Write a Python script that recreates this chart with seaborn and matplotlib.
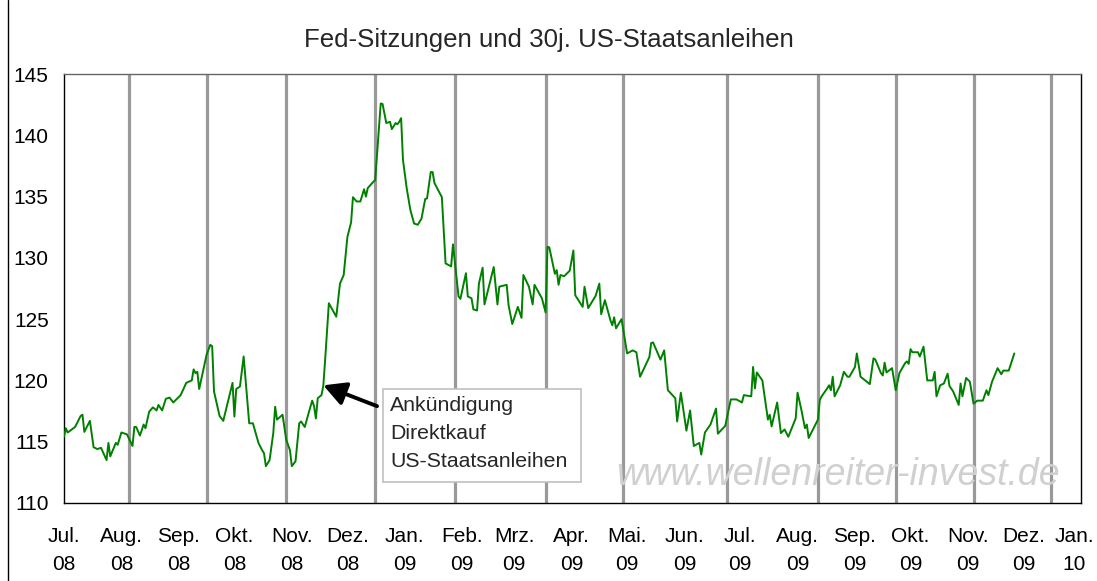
import matplotlib
matplotlib.use("Agg")
import matplotlib.pyplot as plt
import matplotlib.patches as patches
import matplotlib.transforms as mtransforms
import pandas as pd
import seaborn as sns

# 30j. US-Staatsanleihen (Future)
dates = [
    "2008-07-01", "2008-07-02", "2008-07-03", "2008-07-07", "2008-07-10", "2008-07-11", "2008-07-12",
    "2008-07-15", "2008-07-17", "2008-07-19", "2008-07-21", "2008-07-24", "2008-07-25", "2008-07-26",
    "2008-07-29", "2008-07-30", "2008-08-01", "2008-08-04", "2008-08-07", "2008-08-08", "2008-08-09",
    "2008-08-11", "2008-08-13", "2008-08-14", "2008-08-16", "2008-08-18", "2008-08-20", "2008-08-21",
    "2008-08-23", "2008-08-25", "2008-08-27", "2008-08-29", "2008-09-02", "2008-09-05", "2008-09-08",
    "2008-09-09", "2008-09-10", "2008-09-11", "2008-09-12", "2008-09-16", "2008-09-18", "2008-09-19",
    "2008-09-20", "2008-09-23", "2008-09-24", "2008-09-25", "2008-09-30", "2008-10-01", "2008-10-02",
    "2008-10-04", "2008-10-06", "2008-10-09", "2008-10-11", "2008-10-14", "2008-10-16", "2008-10-17",
    "2008-10-18", "2008-10-20", "2008-10-22", "2008-10-23", "2008-10-24", "2008-10-27", "2008-10-29",
    "2008-10-31", "2008-11-01", "2008-11-03", "2008-11-05", "2008-11-06", "2008-11-08", "2008-11-10",
    "2008-11-12", "2008-11-13", "2008-11-14", "2008-11-15", "2008-11-17", "2008-11-18", "2008-11-19",
    "2008-11-21", "2008-11-23", "2008-11-25", "2008-11-27", "2008-11-29", "2008-12-01", "2008-12-03",
    "2008-12-04", "2008-12-06", "2008-12-08", "2008-12-10", "2008-12-11", "2008-12-12", "2008-12-15",
    "2008-12-16", "2008-12-19", "2008-12-20", "2008-12-22", "2008-12-24", "2008-12-25", "2008-12-27",
    "2008-12-28", "2008-12-29", "2008-12-30", "2008-12-31", "2009-01-02", "2009-01-04", "2009-01-06",
    "2009-01-08", "2009-01-10", "2009-01-12", "2009-01-13", "2009-01-15", "2009-01-16", "2009-01-17",
    "2009-01-21", "2009-01-23", "2009-01-26", "2009-01-27", "2009-01-28", "2009-01-30", "2009-01-31",
    "2009-02-03", "2009-02-04", "2009-02-06", "2009-02-07", "2009-02-09", "2009-02-10", "2009-02-12",
    "2009-02-13", "2009-02-18", "2009-02-20", "2009-02-21", "2009-02-25", "2009-02-26", "2009-02-28",
    "2009-03-03", "2009-03-05", "2009-03-06", "2009-03-09", "2009-03-11", "2009-03-12", "2009-03-16",
    "2009-03-18", "2009-03-19", "2009-03-20", "2009-03-23", "2009-03-24", "2009-03-25", "2009-03-26",
    "2009-03-28", "2009-03-31", "2009-04-02", "2009-04-03", "2009-04-07", "2009-04-08", "2009-04-10",
    "2009-04-14", "2009-04-16", "2009-04-17", "2009-04-19", "2009-04-22", "2009-04-23", "2009-04-24",
    "2009-04-25", "2009-04-28", "2009-05-01", "2009-05-04", "2009-05-06", "2009-05-08", "2009-05-13",
    "2009-05-14", "2009-05-15", "2009-05-19", "2009-05-21", "2009-05-23", "2009-05-27", "2009-05-28",
    "2009-05-30", "2009-06-02", "2009-06-04", "2009-06-06", "2009-06-09", "2009-06-10", "2009-06-12",
    "2009-06-15", "2009-06-18", "2009-06-19", "2009-06-23", "2009-06-24", "2009-06-26", "2009-06-29",
    "2009-07-02", "2009-07-03", "2009-07-07", "2009-07-08", "2009-07-09", "2009-07-10", "2009-07-13",
    "2009-07-16", "2009-07-17", "2009-07-18", "2009-07-21", "2009-07-23", "2009-07-25", "2009-07-27",
    "2009-07-31", "2009-08-01", "2009-08-03", "2009-08-05", "2009-08-06", "2009-08-07", "2009-08-11",
    "2009-08-12", "2009-08-13", "2009-08-14", "2009-08-17", "2009-08-18", "2009-08-19", "2009-08-20",
    "2009-08-21", "2009-08-24", "2009-08-26", "2009-08-28", "2009-08-29", "2009-09-01", "2009-09-02",
    "2009-09-04", "2009-09-09", "2009-09-11", "2009-09-12", "2009-09-15", "2009-09-16", "2009-09-17",
    "2009-09-18", "2009-09-21", "2009-09-23", "2009-09-25", "2009-09-28", "2009-09-29", "2009-09-30",
    "2009-10-01", "2009-10-02", "2009-10-05", "2009-10-06", "2009-10-08", "2009-10-10", "2009-10-13",
    "2009-10-14", "2009-10-15", "2009-10-17", "2009-10-19", "2009-10-21", "2009-10-22", "2009-10-24",
    "2009-10-27", "2009-10-28", "2009-10-29", "2009-10-31", "2009-11-02", "2009-11-04", "2009-11-06",
    "2009-11-09", "2009-11-11", "2009-11-12", "2009-11-14", "2009-11-17", "2009-11-19", "2009-11-20",
    "2009-11-23", "2009-11-26",
]
values = [
    115.4, 116.1, 115.75, 116.2, 117.1, 117.2, 115.8,
    116.7, 114.55, 114.4, 114.5, 113.5, 114.9, 113.8,
    114.9, 114.75, 115.75, 115.6, 114.65, 116.2, 116.2,
    115.5, 116.4, 116.1, 117.45, 117.8, 117.55, 118.0,
    117.55, 118.5, 118.6, 118.2, 118.8, 119.8, 120.0,
    120.9, 120.6, 120.7, 119.3, 122.1, 122.9, 122.8,
    119.1, 117.1, 116.9, 116.7, 119.8, 117.05, 119.3,
    119.5, 121.95, 116.5, 116.5, 114.9, 114.3, 114.05,
    113.0, 113.5, 115.7, 117.85, 116.8, 117.2, 115.15,
    114.3, 113.0, 113.4, 116.5, 116.65, 116.2, 117.3,
    118.35, 117.9, 116.9, 118.55, 118.8, 119.55, 121.7,
    126.3, 125.75, 125.2, 127.9, 128.6, 131.7, 132.9,
    134.95, 134.6, 134.6, 135.6, 135.0, 135.7, 136.2,
    136.35, 142.6, 142.55, 141.0, 141.1, 140.5, 141.0,
    140.9, 141.1, 141.4, 138.0, 135.7, 133.9, 132.8,
    132.7, 133.2, 134.8, 134.85, 137.0, 137.0, 136.1,
    134.95, 129.55, 129.3, 131.1, 129.7, 126.85, 126.65,
    128.75, 126.85, 126.7, 125.8, 125.7, 127.9, 129.2,
    126.2, 129.25, 126.2, 127.65, 127.8, 126.15, 124.6,
    126.0, 125.1, 128.6, 127.65, 126.2, 127.8, 126.7,
    125.55, 130.9, 130.85, 128.7, 129.0, 127.8, 128.6,
    128.5, 128.95, 130.6, 126.95, 126.0, 127.65, 125.9,
    126.9, 127.9, 125.4, 126.55, 124.9, 124.5, 125.15,
    124.25, 125.0, 122.2, 122.45, 122.3, 120.3, 121.9,
    123.05, 123.1, 121.7, 122.45, 119.2, 118.55, 116.65,
    119.0, 115.9, 117.55, 114.65, 114.9, 113.95, 115.75,
    116.4, 117.7, 115.65, 116.3, 117.05, 118.45, 118.45,
    118.2, 118.8, 118.7, 121.1, 119.35, 120.65, 120.0,
    116.8, 117.2, 116.25, 118.2, 115.7, 116.0, 115.4,
    116.9, 119.0, 117.65, 116.1, 116.4, 115.3, 116.5,
    116.8, 118.4, 118.7, 119.35, 119.6, 119.2, 120.3,
    118.7, 119.6, 120.7, 120.3, 120.3, 121.1, 122.2,
    120.3, 119.7, 121.8, 121.7, 120.6, 120.4, 121.45,
    120.65, 121.0, 119.2, 120.6, 121.4, 121.55, 121.35,
    122.55, 122.3, 122.3, 121.95, 122.75, 120.0, 120.0,
    120.7, 118.7, 119.6, 119.75, 120.55, 119.55, 119.1,
    118.0, 119.75, 118.7, 120.2, 119.9, 118.1, 118.35,
    118.35, 119.2, 118.8, 119.9, 121.0, 120.5, 120.8,
    120.8, 122.2,
]

# Fed-Sitzungen (FOMC)
fed_meetings = [
    "2008-08-05", "2008-09-16", "2008-10-29", "2008-12-16", "2009-01-28", "2009-03-18",
    "2009-04-29", "2009-06-24", "2009-08-12", "2009-09-23", "2009-11-04", "2009-12-16",
]

tick_dates = pd.date_range("2008-07-01", "2010-01-01", freq="MS")
tick_labels = [
    "Jul.\n08", "Aug.\n08", "Sep.\n08", "Okt.\n08", "Nov.\n08", "Dez.\n08",
    "Jan.\n09", "Feb.\n09", "Mrz.\n09", "Apr.\n09", "Mai.\n09", "Jun.\n09",
    "Jul.\n09", "Aug.\n09", "Sep.\n09", "Okt.\n09", "Nov.\n09", "Dez.\n09", "Jan.\n10",
]
y_ticks = [110, 115, 120, 125, 130, 135, 140, 145]

df = pd.DataFrame({"Datum": pd.to_datetime(dates), "Kurs": values})

sns.set_style("white")
plt.rcParams["font.family"] = ["Liberation Sans", "DejaVu Sans"]

fig = plt.figure(figsize=(10.97, 5.81), dpi=100)
ax = fig.add_axes([0.0583, 0.1343, 0.9271, 0.7383])

for d in fed_meetings:
    ax.axvline(pd.Timestamp(d), color="#999999", lw=2.3, zorder=1)

sns.lineplot(data=df, x="Datum", y="Kurs", color="#008000", linewidth=1.4, ax=ax, zorder=3)

ax.set_xlim(pd.Timestamp("2008-07-01"), pd.Timestamp("2010-01-01"))
ax.set_ylim(110, 145)
ax.set_xticks(tick_dates)
ax.set_xticklabels(tick_labels, fontsize=15, linespacing=1.65)
ax.set_yticks(y_ticks)
ax.set_yticklabels([str(v) for v in y_ticks], fontsize=15)
ax.set_xlabel("")
ax.set_ylabel("")
ax.tick_params(axis="both", direction="out", length=6, width=1, color="black", labelcolor="black")
ax.tick_params(axis="x", pad=11)
ax.tick_params(axis="y", pad=5)

# letzte Beschriftung etwas nach links, damit sie nicht abgeschnitten wird
last = ax.get_xticklabels()[-1]
last.set_transform(last.get_transform() + mtransforms.ScaledTranslation(-5 / 72, 0, fig.dpi_scale_trans))

for side in ["left", "bottom", "right"]:
    ax.spines[side].set_color("black")
    ax.spines[side].set_linewidth(1)
ax.spines["top"].set_color("#666666")
ax.spines["top"].set_linewidth(1)

# Wasserzeichen
ax.text(0.979, 0.065, "www.wellenreiter-invest.de", transform=ax.transAxes,
        fontsize=27, style="italic", color="#d0d0d0", ha="right", va="center", zorder=2)

# Kommentar
box = patches.Rectangle((0.3137, 0.049), 0.1947, 0.2167, transform=ax.transAxes,
                        facecolor="white", edgecolor="#c0c0c0", lw=1.2, zorder=4)
ax.add_patch(box)
ax.text(0.3206, 0.1608, "Ankündigung\nDirektkauf\nUS-Staatsanleihen", transform=ax.transAxes,
        fontsize=15.3, ha="left", va="center", linespacing=1.6, zorder=5)
ax.annotate("", xy=(pd.Timestamp("2008-11-18"), 119.6), xytext=(pd.Timestamp("2008-12-17"), 117.9),
            arrowprops=dict(arrowstyle="-|>,head_length=0.75,head_width=0.4", color="black",
                            lw=2.8, mutation_scale=18, shrinkA=0, shrinkB=0), zorder=5)

fig.text(0.5, 1 - 40 / 581, "Fed-Sitzungen und 30j. US-Staatsanleihen", ha="center", va="center", fontsize=18.6)

# Rahmen des Diagrammbereichs (links)
fig.add_artist(plt.Line2D([8 / 1097, 8 / 1097], [0, 1], transform=fig.transFigure, color="black", lw=1))

fig.savefig("out.png", dpi=100)
plt.close()
